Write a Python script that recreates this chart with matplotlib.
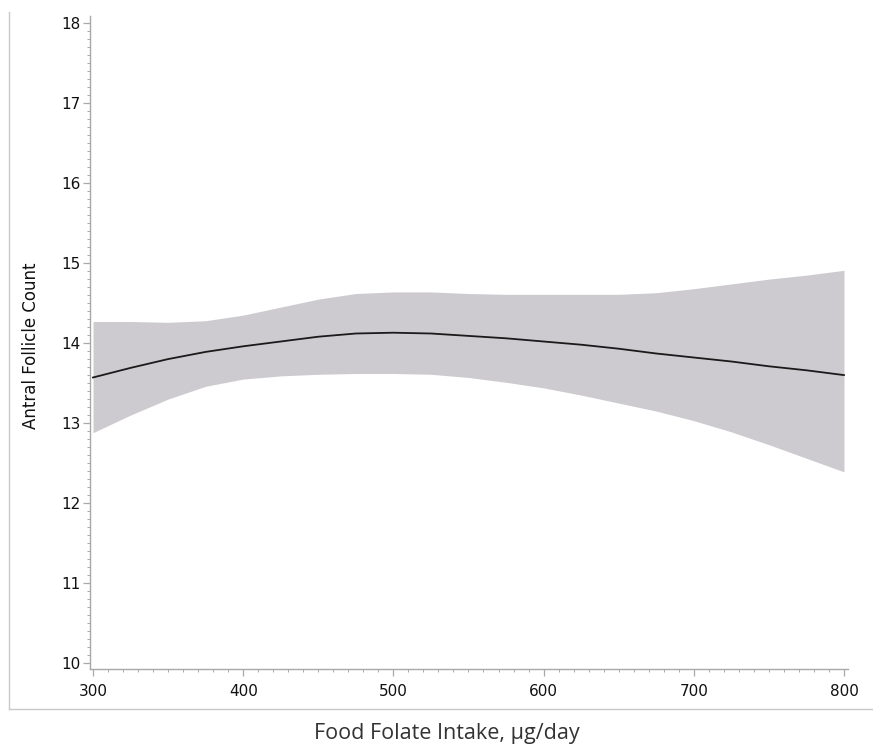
import matplotlib
matplotlib.use("Agg")
import matplotlib.pyplot as plt
from matplotlib.lines import Line2D
from matplotlib.ticker import MultipleLocator

plt.rcParams["font.family"] = ["DejaVu Sans"]

# Data
folate = [300, 325, 350, 375, 400, 425, 450, 475, 500, 525, 550,
          575, 600, 625, 650, 675, 700, 725, 750, 775, 800]
afc = [13.57, 13.69, 13.80, 13.89, 13.96, 14.02, 14.08, 14.12, 14.13, 14.12, 14.09,
       14.06, 14.02, 13.98, 13.93, 13.87, 13.82, 13.77, 13.71, 13.66, 13.60]
upper = [14.27, 14.27, 14.26, 14.28, 14.35, 14.45, 14.55, 14.62, 14.64, 14.64, 14.62,
         14.61, 14.61, 14.61, 14.61, 14.63, 14.68, 14.74, 14.80, 14.85, 14.91]
lower = [12.88, 13.10, 13.30, 13.46, 13.55, 13.59, 13.61, 13.62, 13.62, 13.61, 13.57,
         13.51, 13.44, 13.35, 13.25, 13.15, 13.03, 12.89, 12.73, 12.56, 12.39]

xticks = [300, 400, 500, 600, 700, 800]
yticks = [10, 11, 12, 13, 14, 15, 16, 17, 18]

W, H = 873, 748
fig = plt.figure(figsize=(W / 100, H / 100), dpi=100)
ax = fig.add_axes([90 / W, (H - 669) / H, (848 - 90) / W, (669 - 16) / H])

ax.fill_between(folate, lower, upper, color="#cdcbd0", linewidth=0)
ax.plot(folate, afc, color="#1a1a1a", linewidth=1.3)

ax.set_xlim(298.0, 802.7)
ax.set_ylim(9.925, 18.09)
ax.set_xticks(xticks)
ax.set_yticks(yticks)
ax.xaxis.set_minor_locator(MultipleLocator(10))
ax.yaxis.set_minor_locator(MultipleLocator(0.1))

spine_c = "#a8a8a8"
for s in ["top", "right"]:
    ax.spines[s].set_visible(False)
for s in ["left", "bottom"]:
    ax.spines[s].set_color(spine_c)
    ax.spines[s].set_linewidth(1.0)

ax.tick_params(which="major", direction="out", length=5, width=0.9, color=spine_c,
               labelsize=11, labelcolor="#111111", pad=2, labelfontfamily="DejaVu Sans")
ax.tick_params(which="minor", direction="out", length=2.5, width=0.7, color=spine_c)
ax.tick_params(axis="x", which="major", pad=6)

fig.text(31 / W, 1 - 346 / H, "Antral Follicle Count", rotation=90, ha="center",
         va="center", fontsize=12, color="#111111", family="DejaVu Sans")
fig.text(447 / W, 1 - 733 / H, "Food Folate Intake, \u00b5g/day", ha="center",
         va="center", fontsize=15.5, color="#333333", family="Open Sans")

# outer frame (left and bottom)
frame_c = "#c8c8c8"
fig.add_artist(Line2D([9 / W, 9 / W], [1 - 12 / H, 1 - 709 / H], color=frame_c,
                      linewidth=1.0, transform=fig.transFigure))
fig.add_artist(Line2D([9 / W, 1.0], [1 - 709 / H, 1 - 709 / H], color=frame_c,
                      linewidth=1.0, transform=fig.transFigure))

fig.savefig("out.png", dpi=100)
